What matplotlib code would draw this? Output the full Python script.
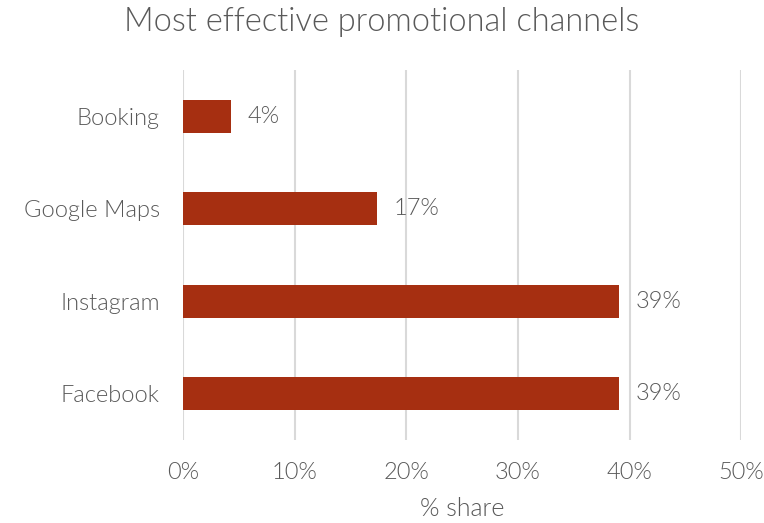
import matplotlib
matplotlib.use("Agg")
import matplotlib.pyplot as plt

channels = ["Facebook", "Instagram", "Google Maps", "Booking"]
shares = [39.1, 39.1, 17.4, 4.3]
xticks = [0, 10, 20, 30, 40, 50]
xtick_labels = ["0%", "10%", "20%", "30%", "40%", "50%"]

plt.rcParams["font.family"] = ["Lato", "DejaVu Sans"]
W = 300
text_color = "#595959"
bar_color = "#A62F11"

fig = plt.figure(figsize=(7.64, 5.23), dpi=100)
ax = fig.add_axes([0.240, 0.159, 0.730, 0.707])

y = list(range(len(channels)))
ax.barh(y, shares, height=0.36, color=bar_color, zorder=3)
for yi, v in zip(y, shares):
    ax.text(v + 1.45, yi, f"{v:.0f}%", va="center", ha="left",
            fontsize=17, color=text_color, fontweight=W)

ax.set_xlim(0, 50)
ax.set_ylim(-0.5, 3.5)
ax.set_xticks(xticks)
ax.set_xticklabels(xtick_labels, fontweight=W)
ax.set_yticks(y)
ax.set_yticklabels(channels, fontweight=W)
ax.tick_params(axis="both", length=0, labelsize=17, colors=text_color)
ax.tick_params(axis="x", pad=16)
ax.tick_params(axis="y", pad=17)
ax.xaxis.grid(True, color="#d9d9d9", linewidth=1.5, zorder=0)
for s in ax.spines.values():
    s.set_visible(False)

ax.set_xlabel("% share", fontsize=18, color=text_color, labelpad=10,
              fontweight=W)
fig.text(0.5, 0.958, "Most effective promotional channels", ha="center",
         va="center", fontsize=23.5, color=text_color, fontweight=W)

fig.savefig("out.png", dpi=100)
